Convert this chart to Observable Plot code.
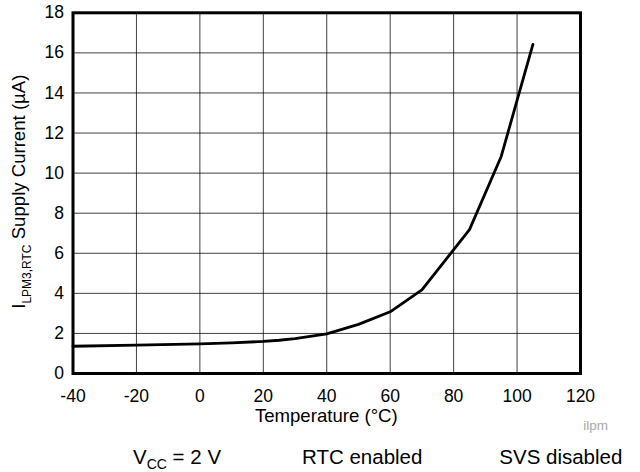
<!DOCTYPE html>
<html><head><meta charset="utf-8">
<script src="https://cdn.jsdelivr.net/npm/d3@7"></script>
<script src="https://cdn.jsdelivr.net/npm/@observablehq/plot@0.6"></script>
<style>body{margin:0;background:#fff;}</style>
</head><body><div id="chart"></div>
<script>
// Data
const temperature = [-40, -20, 0, 10, 20, 25, 30, 40, 50, 60, 70, 85, 95, 105];
const supplyCurrent = [1.36, 1.42, 1.48, 1.53, 1.6, 1.66, 1.74, 1.98, 2.45, 3.08, 4.17, 7.18, 10.83, 16.42];
const xTicks = [-40, -20, 0, 20, 40, 60, 80, 100, 120];
const yTicks = [0, 2, 4, 6, 8, 10, 12, 14, 16, 18];

const data = temperature.map((t, i) => ({t, c: supplyCurrent[i]}));
const FONT = "'Liberation Sans', Arial, Helvetica, sans-serif";

const chart = Plot.plot({
  width: 640, height: 472,
  marginTop: 12.3, marginBottom: 99, marginLeft: 72.5, marginRight: 60,
  style: {fontFamily: FONT, fontSize: "17.5px", color: "#000", background: "#fff"},
  x: {domain: [-40, 120]},
  y: {domain: [0, 18]},
  marks: [
    Plot.gridX(xTicks, {stroke: "#000", strokeOpacity: 0.75, strokeWidth: 1}),
    Plot.gridY(yTicks, {stroke: "#000", strokeOpacity: 0.75, strokeWidth: 1}),
    Plot.line(data, {x: "t", y: "c", stroke: "#000", strokeWidth: 2.8}),
    Plot.frame({stroke: "#000", strokeWidth: 3}),
    Plot.axisX(xTicks, {tickSize: 0, tickPadding: 16, label: null, tickFormat: d => String(d)}),
    Plot.axisY(yTicks, {tickSize: 0, tickPadding: 9, label: null, tickFormat: d => String(d)})
  ]
});
document.getElementById("chart").append(chart);

const svg = d3.select(chart);
// x axis title
svg.append("text").attr("x", 326.3).attr("y", 421.7)
  .attr("text-anchor", "middle").style("font", `18.6px ${FONT}`).attr("fill", "#000")
  .text("Temperature (°C)");

// y axis title with subscript
const yl = svg.append("text").attr("transform", "translate(25,191.7) rotate(-90)")
  .attr("text-anchor", "middle").style("font", `18.6px ${FONT}`).attr("fill", "#000");
yl.append("tspan").text("I");
yl.append("tspan").attr("dy", 5.5).style("font-size", "12px").text("LPM3,RTC");
yl.append("tspan").attr("dy", -5.5).text(" Supply Current (µA)");

// small id
svg.append("text").attr("x", 583.3).attr("y", 429.5).attr("text-anchor", "start")
  .style("font", `13.5px ${FONT}`).attr("fill", "#a8a8a8").text("ilpm");

// conditions line
const cond = svg.append("g").attr("text-anchor", "start").style("font", `20.5px ${FONT}`).attr("fill", "#000");
const v = cond.append("text").attr("x", 133).attr("y", 464);
v.append("tspan").text("V");
v.append("tspan").attr("dy", 4.5).style("font-size", "14px").text("CC");
v.append("tspan").attr("dy", -4.5).text(" = 2 V");
cond.append("text").attr("x", 302).attr("y", 464).text("RTC enabled");
cond.append("text").attr("x", 499.3).attr("y", 464).text("SVS disabled");
</script>
</body></html>
